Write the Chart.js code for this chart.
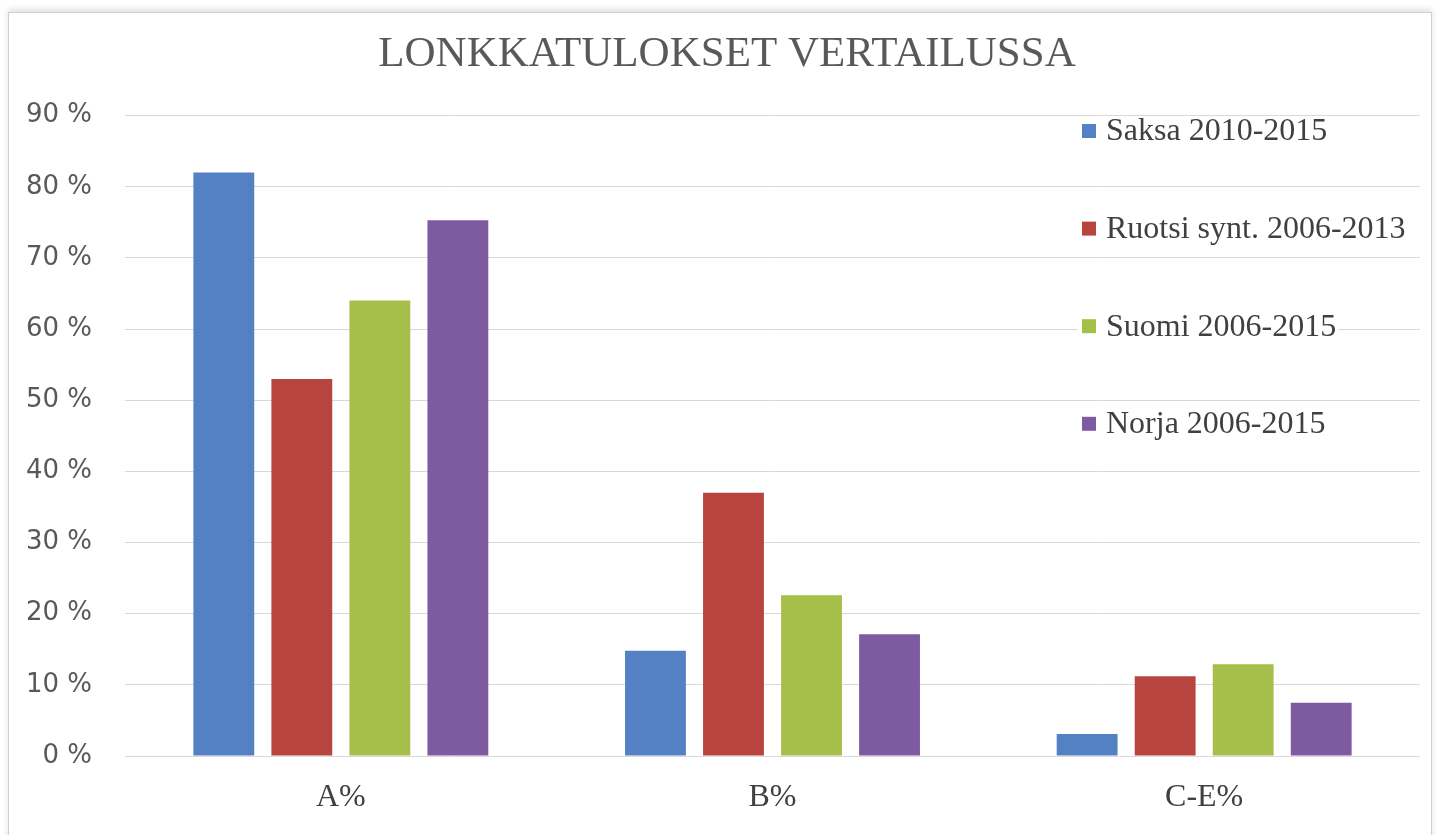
<!DOCTYPE html>
<html>
<head>
<meta charset="utf-8">
<script src="https://cdn.jsdelivr.net/npm/chart.js@4"></script>
<style>
  html, body { margin: 0; padding: 0; background: #ffffff; }
  body { width: 1437px; height: 835px; position: relative; overflow: hidden; }
  #kehys {
    position: absolute; left: 8px; top: 12px; width: 1422px; height: 830px;
    border: 1px solid #cfcfcf; box-shadow: 0 -3px 6px rgba(0,0,0,0.12);
    background: #fff;
  }
  #wrap { position: absolute; left: 0; top: 0; width: 1437px; height: 835px; }
</style>
</head>
<body>
<div id="kehys"></div>
<div id="wrap"><canvas id="graafi"></canvas></div>
<script>
// kategoriat ja sarjat (luettu kuvasta)
const kategoriat = ['A%', 'B%', 'C-E%'];
const sarjat = ['Saksa 2010-2015', 'Ruotsi synt. 2006-2013', 'Suomi 2006-2015', 'Norja 2006-2015'];
const saksa = [82, 14.8, 3.1];
const ruotsi = [53, 37, 11.2];
const suomi = [64, 22.6, 12.9];
const norja = [75.3, 17.1, 7.5];
const varit = ['#5480c4', '#b8443f', '#a5bf4a', '#7e5ba0'];

const arvot = [saksa, ruotsi, suomi, norja];

// selite piirretään kaavion päälle kuten Excelissä
const selitePlugin = {
    id: 'selite',
    afterLayout(chart) {
        // otsikko hieman oikealle, kuten alkuperäisessä
        if (chart.titleBlock) {
            chart.titleBlock.left += 34;
        }
    },
    afterDraw(chart) {
        const ctx = chart.ctx;
        const x0 = 1082;
        const y0 = 131;
        const vali = 97.6;
        ctx.save();
        ctx.font = '32px "Liberation Serif"';
        ctx.textBaseline = 'middle';
        chart.data.datasets.forEach((ds, i) => {
            const y = y0 + i * vali;
            const w = ctx.measureText(ds.label).width;
            ctx.fillStyle = '#ffffff';
            ctx.fillRect(x0 - 4, y - 14, w + 30, 28);
            ctx.fillStyle = ds.backgroundColor;
            ctx.fillRect(x0, y - 7, 14, 14);
            ctx.fillStyle = '#404040';
            ctx.fillText(ds.label, x0 + 24, y + 1);
        });
        ctx.restore();
    }
};

const data = {
    labels: kategoriat,
    datasets: sarjat.map((nimi, i) => ({
        label: nimi,
        data: arvot[i],
        backgroundColor: varit[i],
        borderWidth: 0,
        categoryPercentage: 0.723,
        barPercentage: 0.78
    }))
};

const config = {
    type: 'bar',
    data: data,
    options: {
        responsive: false,
        animation: false,
        layout: { padding: { left: 0, right: 17, top: 0, bottom: 0 } },
        plugins: {
            legend: { display: false },
            tooltip: { enabled: false },
            title: {
                display: true,
                text: 'LONKKATULOKSET VERTAILUSSA',
                color: '#595959',
                font: { family: '"Liberation Serif"', size: 43, weight: 'normal', lineHeight: 1.2 },
                padding: { top: 29, bottom: 35 }
            }
        },
        scales: {
            x: {
                grid: { display: false, drawTicks: false },
                border: { display: false },
                ticks: {
                    color: '#404040',
                    font: { family: '"Liberation Serif"', size: 32 },
                    padding: 22
                },
                afterFit: function (s) { s.height = 79; }
            },
            y: {
                min: 0,
                max: 90,
                beginAtZero: true,
                grid: { color: '#d9d9d9', lineWidth: 1, drawTicks: false },
                border: { display: false },
                ticks: {
                    stepSize: 10,
                    color: '#595959',
                    font: { family: '"DejaVu Sans"', size: 26 },
                    padding: 33,
                    callback: function (v) { return v + ' %'; }
                },
                afterFit: function (s) { s.width = 125; }
            }
        }
    },
    plugins: [selitePlugin]
};

const canvas = document.getElementById('graafi');
canvas.width = 1437;
canvas.height = 835;
const ctx = canvas.getContext('2d');
const kaavio = new Chart(ctx, config);
</script>
</body>
</html>
